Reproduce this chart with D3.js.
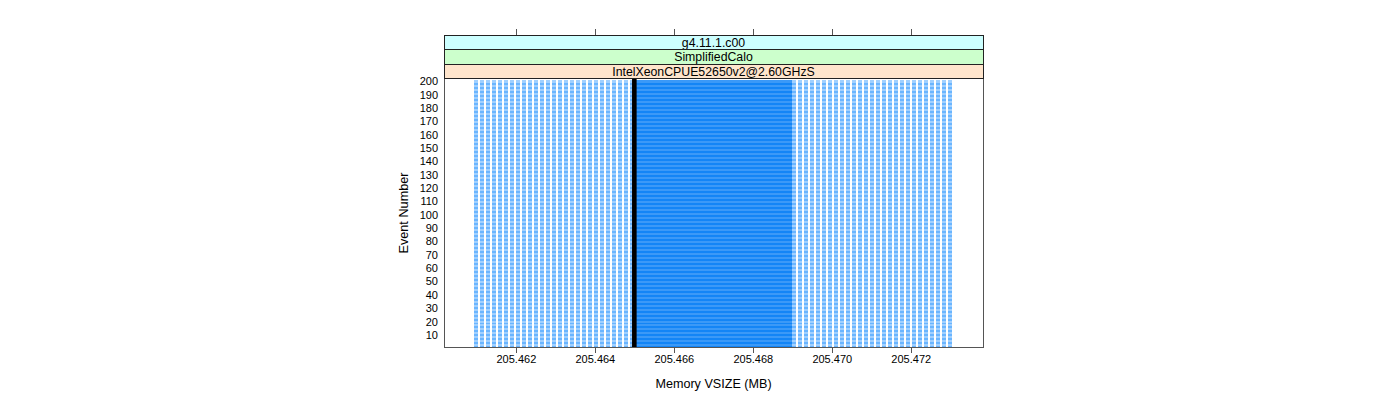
<!DOCTYPE html>
<html>
<head>
<meta charset="utf-8">
<script src="https://cdn.jsdelivr.net/npm/d3@7/dist/d3.min.js"></script>
<style>
  html, body { margin: 0; padding: 0; background: #fff; }
  svg { display: block; }
  text { font-family: "Liberation Sans", Arial, Helvetica, sans-serif; fill: #000; }
</style>
</head>
<body>
<svg id="chart" width="1400" height="400"></svg>
<script>
// ---- data ----
const stripLabels = ["g4.11.1.c00", "SimplifiedCalo", "IntelXeonCPUE52650v2@2.60GHzS"];
const stripColors = ["#CCFFFF", "#CCFFCC", "#FFE5CC"];
const xTicks = [205.462, 205.464, 205.466, 205.468, 205.470, 205.472];
const yTicks = [10, 20, 30, 40, 50, 60, 70, 80, 90, 100, 110, 120, 130, 140, 150, 160, 170, 180, 190, 200];
const eventNumbers = d3.range(1, 201);
// sampled memory values (MB) below the dense band
const memLow = [205.461000, 205.461152, 205.461304, 205.461456, 205.461608, 205.461760, 205.461912,
  205.462064, 205.462216, 205.462368, 205.462520, 205.462672, 205.462824, 205.462976, 205.463128,
  205.463280, 205.463432, 205.463584, 205.463736, 205.463888, 205.464040, 205.464192, 205.464344,
  205.464496, 205.464648, 205.464800, 205.464952];
// sampled memory values (MB) above the dense band
const memHigh = [205.469048, 205.469200, 205.469352, 205.469504, 205.469656, 205.469808, 205.469960,
  205.470112, 205.470264, 205.470416, 205.470568, 205.470720, 205.470872, 205.471024, 205.471176,
  205.471328, 205.471480, 205.471632, 205.471784, 205.471936, 205.472088, 205.472240, 205.472392,
  205.472544, 205.472696, 205.472848, 205.473000];
const denseBand = [205.46500, 205.46900];
const refValue = 205.465;

// ---- layout ----
const panel = { left: 444, right: 983, top: 78.5, bottom: 347.5 };
const stripH = 14.5;
const svg = d3.select("#chart");

const x = d3.scaleLinear().domain([205.46018, 205.47383]).range([panel.left, panel.right]);
const y = d3.scaleLinear().domain([0, 202]).range([348.2, 78.5]);

svg.append("rect")
  .attr("x", panel.left).attr("y", panel.top)
  .attr("width", panel.right - panel.left).attr("height", panel.bottom - panel.top)
  .attr("fill", "#fff");

const g = svg.append("g").attr("shape-rendering", "crispEdges");

// dense band per event
g.append("g").selectAll("rect").data(eventNumbers).join("rect")
  .attr("x", Math.round(x(denseBand[0])))
  .attr("width", Math.round(x(denseBand[1])) - Math.round(x(denseBand[0])))
  .attr("y", d => y(d) - 1)
  .attr("height", 2)
  .attr("fill", "#0a7ff5")
  .attr("fill-opacity", 0.8);

// sampled points per event
const pts = [];
eventNumbers.forEach(e => {
  memLow.forEach(v => pts.push([v, e]));
  memHigh.forEach(v => pts.push([v, e]));
});
g.append("g").selectAll("rect").data(pts).join("rect")
  .attr("x", d => Math.round(x(d[0])) - 2)
  .attr("width", 4)
  .attr("y", d => y(d[1]) - 1)
  .attr("height", 2)
  .attr("fill", "#1E90FF")
  .attr("fill-opacity", 0.42);

// reference line
svg.append("line")
  .attr("x1", x(refValue)).attr("x2", x(refValue))
  .attr("y1", panel.top).attr("y2", panel.bottom)
  .attr("stroke", "#000").attr("stroke-width", 4.6);

// panel border
svg.append("rect")
  .attr("x", panel.left).attr("y", panel.top)
  .attr("width", panel.right - panel.left).attr("height", panel.bottom - panel.top)
  .attr("fill", "none").attr("stroke", "#555").attr("stroke-width", 1)
  .attr("shape-rendering", "crispEdges");

// strips
const stripTop = panel.top - stripH * stripLabels.length;
stripLabels.forEach((lab, i) => {
  const sy = stripTop + i * stripH;
  svg.append("rect")
    .attr("x", panel.left).attr("y", sy)
    .attr("width", panel.right - panel.left).attr("height", stripH)
    .attr("fill", stripColors[i]).attr("stroke", "#222").attr("stroke-width", 1)
    .attr("shape-rendering", "crispEdges");
  svg.append("text")
    .attr("x", (panel.left + panel.right) / 2).attr("y", sy + stripH / 2 + 4.3)
    .attr("text-anchor", "middle").attr("font-size", 12.3)
    .text(lab);
});

// bottom axis
const xAxis = d3.axisBottom(x).tickValues(xTicks).tickFormat(d3.format(".3f")).tickSize(5).tickSizeOuter(0);
const gx = svg.append("g").attr("transform", `translate(0,${panel.bottom})`).call(xAxis);
gx.select(".domain").remove();
gx.selectAll(".tick line").attr("stroke", "#555").attr("shape-rendering", "crispEdges");
gx.selectAll(".tick text").attr("font-size", 11).attr("font-family", "Liberation Sans, Arial, sans-serif").attr("fill", "#000").attr("dy", "0.9em").attr("y", 6);

// top axis ticks
const xTop = d3.axisTop(x).tickValues(xTicks).tickFormat("").tickSize(6).tickSizeOuter(0);
const gt = svg.append("g").attr("transform", `translate(0,${stripTop})`).call(xTop);
gt.select(".domain").remove();
gt.selectAll(".tick line").attr("stroke", "#555").attr("shape-rendering", "crispEdges");

// left axis labels
const yAxis = d3.axisLeft(y).tickValues(yTicks).tickSize(0).tickPadding(6);
const gy = svg.append("g").attr("transform", `translate(${panel.left},0)`).call(yAxis);
gy.select(".domain").remove();
gy.selectAll(".tick text").attr("font-size", 11).attr("fill", "#000").attr("font-family", "Liberation Sans, Arial, sans-serif");

// axis titles
svg.append("text")
  .attr("x", (panel.left + panel.right) / 2).attr("y", 388)
  .attr("text-anchor", "middle").attr("font-size", 12.6)
  .text("Memory VSIZE (MB)");
svg.append("text")
  .attr("transform", `translate(408,${(panel.top + panel.bottom) / 2}) rotate(-90)`)
  .attr("text-anchor", "middle").attr("font-size", 12.7)
  .text("Event Number");
</script>
</body>
</html>
